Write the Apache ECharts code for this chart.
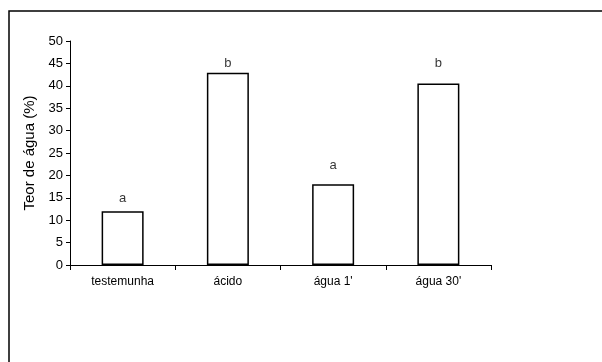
<!DOCTYPE html>
<html>
<head>
<meta charset="utf-8">
<script src="https://cdn.jsdelivr.net/npm/echarts@6/dist/echarts.min.js"></script>
<style>
html,body{margin:0;padding:0;background:#fff;}
#chart{width:602px;height:362px;}
</style>
</head>
<body>
<div id="chart"></div>
<script>
const categories = ['testemunha', 'ácido', 'água 1\'', 'água 30\''];
const values = [12.0, 42.9, 18.0, 40.5];
const letters = ['a', 'b', 'a', 'b'];
const letterY = [14.8, 44.9, 22.2, 44.9];
const yTicks = {min: 0, max: 50, interval: 5};
const yName = 'Teor de água (%)';

const font = '"Liberation Sans", Arial, sans-serif';
const chart = echarts.init(document.getElementById('chart'), null, {renderer: 'canvas'});
chart.setOption({
  backgroundColor: '#fff',
  animation: false,
  graphic: [{
    type: 'rect',
    shape: {x: 9, y: 11, width: 800, height: 600},
    style: {fill: 'none', stroke: '#000', lineWidth: 1.5},
    silent: true
  }],
  grid: {left: 70, top: 41, right: 111, bottom: 97, containLabel: false},
  xAxis: {
    type: 'category',
    data: categories,
    axisLine: {lineStyle: {color: '#000', width: 1}},
    axisTick: {show: true, alignWithLabel: false, length: 5, lineStyle: {color: '#000'}},
    axisLabel: {color: '#000', fontFamily: font, fontSize: 12, margin: 11},
    splitLine: {show: false}
  },
  yAxis: {
    type: 'value',
    min: yTicks.min, max: yTicks.max, interval: yTicks.interval,
    name: yName,
    nameLocation: 'middle',
    nameGap: 28,
    nameTextStyle: {color: '#000', fontFamily: font, fontSize: 15},
    axisLine: {show: true, lineStyle: {color: '#000', width: 1}},
    axisTick: {show: true, length: 4, lineStyle: {color: '#000'}},
    axisLabel: {color: '#000', fontFamily: font, fontSize: 13, margin: 7},
    splitLine: {show: false}
  },
  series: [{
    type: 'bar',
    data: values,
    barWidth: 42,
    itemStyle: {color: '#fff', borderColor: '#000', borderWidth: 1.5}
  }, {
    type: 'scatter',
    data: letterY.map((v, i) => ({value: [i, v], label: {formatter: letters[i]}})),
    symbolSize: 0,
    label: {show: true, position: 'inside', color: '#000', fontFamily: font, fontSize: 13},
    z: 5
  }]
});
</script>
</body>
</html>
